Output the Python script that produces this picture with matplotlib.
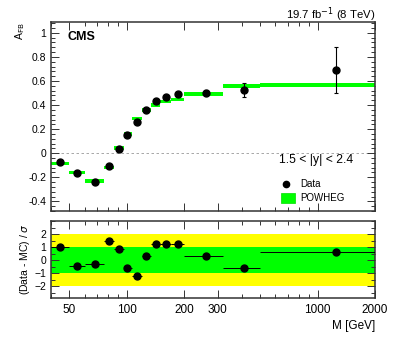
import numpy as np
import matplotlib
matplotlib.use("Agg")
import matplotlib.pyplot as plt
from matplotlib.ticker import FixedLocator, NullFormatter, MultipleLocator, FixedFormatter

plt.rcParams['font.family'] = ['Liberation Sans', 'DejaVu Sans']

# mass bins [GeV]
bin_edges = [40, 50, 60, 76, 86, 96, 106, 120, 133, 150, 171, 200, 320, 500, 2000]
# mean mass of each bin (where the points sit)
mass_mean = [44.7, 54.9, 68.0, 80.8, 90.8, 100.4, 112.8, 126.3, 141.4, 160.7, 185.1, 258.6, 409, 1252]
# measured A_FB and its uncertainty
afb_data = [-0.076, -0.165, -0.235, -0.104, 0.038, 0.154, 0.262, 0.36, 0.432, 0.47, 0.49, 0.502, 0.523, 0.69]
afb_err = [0.01, 0.01, 0.01, 0.01, 0.01, 0.01, 0.01, 0.012, 0.012, 0.015, 0.02, 0.02, 0.06, 0.19]
# POWHEG prediction and its half-width
afb_mc = [-0.085, -0.16, -0.232, -0.12, 0.043, 0.162, 0.29, 0.36, 0.40, 0.43, 0.446, 0.493, 0.56, 0.565]
mc_err = [0.015, 0.015, 0.015, 0.015, 0.015, 0.015, 0.015, 0.015, 0.015, 0.015, 0.015, 0.018, 0.018, 0.018]
# pulls (Data - MC) / sigma
pulls = [0.98, -0.47, -0.32, 1.43, 0.86, -0.62, -1.23, 0.30, 1.2, 1.23, 1.26, 0.35, -0.57, 0.6]

xtick_vals = [50, 100, 200, 300, 1000, 2000]
xtick_labels = ["50", "100", "200", "300", "1000", "2000"]

edges = np.array(bin_edges, dtype=float)
lo = edges[:-1]
hi = edges[1:]
xm = np.array(mass_mean)
mc = np.array(afb_mc)
mce = np.array(mc_err)

fig = plt.figure(figsize=(3.99, 3.38), dpi=100)
ax1 = fig.add_axes([51/399, (338-211)/338, 324/399, 189/338])
ax2 = fig.add_axes([51/399, (338-298)/338, 324/399, 77/338])

frame_col = '#333333'
minor_x = [40, 60, 70, 80, 90, 400, 500, 600, 700, 800, 900]

def style(ax):
    ax.set_xscale('log')
    ax.set_xlim(40, 2000)
    for s in ax.spines.values():
        s.set_color(frame_col)
        s.set_linewidth(1.1)
    ax.tick_params(which='both', direction='in', top=True, right=True,
                   labelsize=7.5, color=frame_col, width=0.7)
    ax.tick_params(which='major', length=6)
    ax.tick_params(which='minor', length=3)
    ax.xaxis.set_major_locator(FixedLocator(xtick_vals))
    ax.xaxis.set_minor_locator(FixedLocator(minor_x))
    ax.xaxis.set_minor_formatter(NullFormatter())

# top panel
style(ax1)
ax1.bar(lo, 2 * mce, width=hi - lo, bottom=mc - mce, align='edge',
        color='#00ff00', edgecolor='none', zorder=2)
ax1.axhline(0, color='#999999', lw=0.6, ls=(0, (3, 3)), zorder=1)
ax1.errorbar(xm, afb_data, yerr=afb_err, fmt='o', color='black',
             ms=5, lw=0.8, capsize=1.5, capthick=0.8, zorder=3)
ax1.set_ylim(-0.48, 1.09)
ax1.yaxis.set_major_locator(MultipleLocator(0.2))
ax1.yaxis.set_minor_locator(MultipleLocator(0.04))
ax1.yaxis.set_major_formatter(matplotlib.ticker.FuncFormatter(
    lambda v, p: "0" if abs(v) < 1e-9 else ("1" if abs(v - 1) < 1e-9 else f"{v:.1f}")))
ax1.xaxis.set_major_formatter(NullFormatter())
ax1.set_ylabel(r'A$_{\mathrm{FB}}$', fontsize=7.5, loc='top')
ax1.yaxis.set_label_coords(-0.075, 1.0)

ax1.text(0.05, 0.95, 'CMS', transform=ax1.transAxes, fontsize=9,
         fontweight='bold', va='top', ha='left')
ax1.text(1.0, 1.016, r'19.7 fb$^{-1}$ (8 TeV)', transform=ax1.transAxes,
         fontsize=8.2, ha='right', va='baseline')
ax1.text(0.932, 0.27, '1.5 < |y| < 2.4', transform=ax1.transAxes,
         fontsize=8.7, ha='right', va='center')
# legend
ax1.plot([0.725], [0.143], 'o', color='black', ms=4.5, transform=ax1.transAxes)
ax1.text(0.768, 0.143, 'Data', transform=ax1.transAxes, fontsize=7, va='center')
ax1.add_patch(plt.Rectangle((0.71, 0.042), 0.043, 0.055, transform=ax1.transAxes,
                            facecolor='#00ff00', edgecolor='#00dd00', lw=0.5))
ax1.text(0.768, 0.07, 'POWHEG', transform=ax1.transAxes, fontsize=7, va='center')

# bottom panel
style(ax2)
ax2.axhspan(-2, 2, color='#ffff00', lw=0, zorder=0)
ax2.axhspan(-1, 1, color='#00ff00', lw=0, zorder=1)
ax2.errorbar(xm, pulls, xerr=[xm - lo, hi - xm], fmt='o',
             color='black', ms=5, lw=0.7, zorder=3)
ax2.set_ylim(-2.9, 3.0)
ax2.yaxis.set_major_locator(FixedLocator([-2, -1, 0, 1, 2]))
ax2.yaxis.set_minor_locator(MultipleLocator(0.5))
ax2.xaxis.set_major_formatter(FixedFormatter(xtick_labels))
ax2.tick_params(axis='x', which='major', labelsize=8.5, pad=4)
ax2.set_ylabel(r'(Data - MC) / $\sigma$', fontsize=7.5)
ax2.yaxis.set_label_coords(-0.06, 0.5)
ax2.set_xlabel('M [GeV]', fontsize=8.5, loc='right', labelpad=3)

fig.savefig('out.png', dpi=100)
